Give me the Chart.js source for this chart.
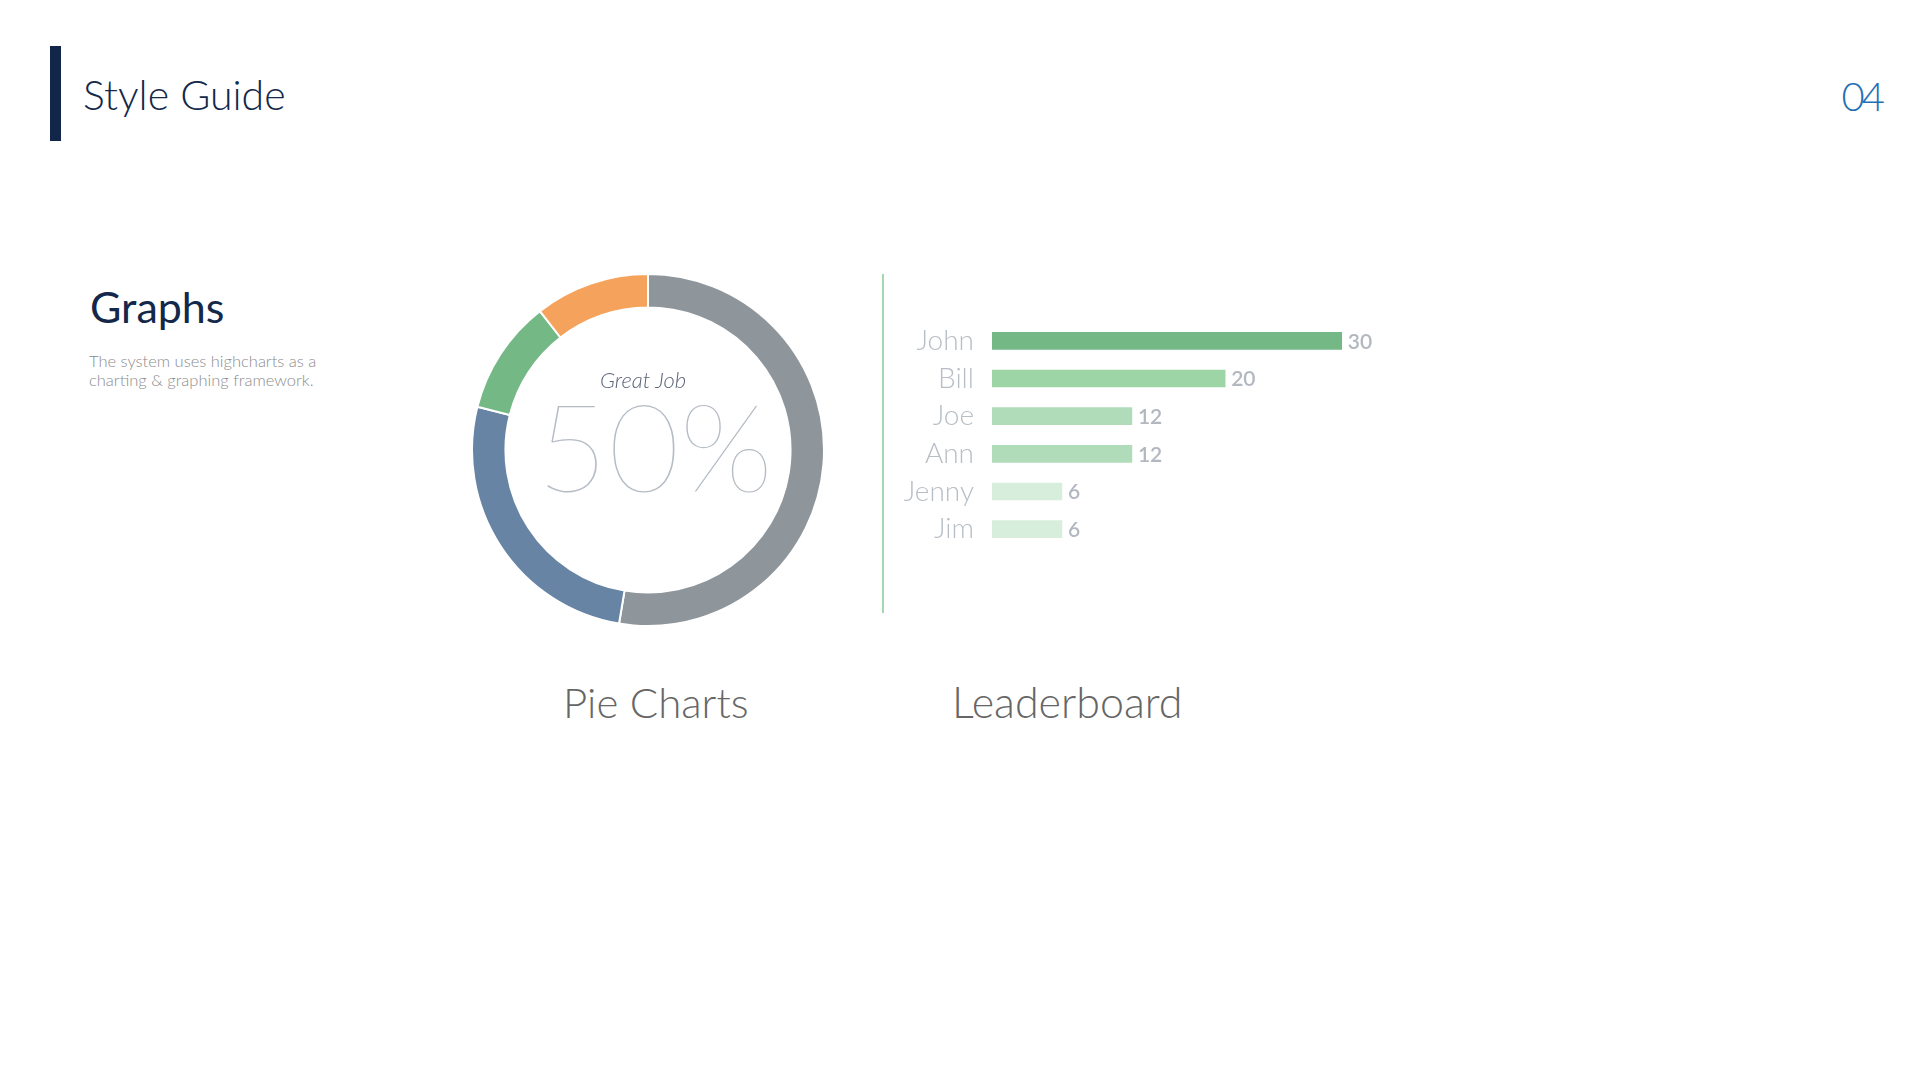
<!DOCTYPE html>
<html><head><meta charset="utf-8">
<script src="https://cdn.jsdelivr.net/npm/chart.js@4.4.0/dist/chart.umd.min.js"></script>
<style>
html,body{margin:0;padding:0;background:#fff;width:1920px;height:1080px;overflow:hidden;font-family:Lato,"Open Sans",sans-serif;}
.abs{position:absolute;white-space:nowrap;line-height:1;}
</style></head><body>
<div class="abs" style="left:50px;top:46px;width:11px;height:95px;background:#12264a;"></div>
<div class="abs" style="left:83px;top:74px;font-size:41px;font-weight:300;color:#13284a;">Style Guide</div>
<div class="abs" style="right:38px;top:76px;font-size:40px;letter-spacing:-3px;font-weight:300;color:#1f6fb5;">04</div>
<div class="abs" style="left:90px;top:285px;font-size:43px;font-weight:400;color:#13284a;">Graphs</div>
<div class="abs" style="left:89px;top:352px;font-size:16.5px;line-height:19px;font-weight:300;color:#8c8c8c;">The system uses highcharts as a<br>charting &amp; graphing framework.</div>

<div class="abs" style="left:471px;top:273px;width:354px;height:354px;"><canvas id="pie" width="354" height="354"></canvas></div>
<div class="abs" id="cap" style="left:543px;top:369px;width:200px;text-align:center;font-size:22px;font-style:italic;font-weight:300;color:#5b6579;"></div>
<div class="abs" id="val" style="left:455px;top:396px;width:400px;text-align:center;font-size:123px;line-height:0.8;font-weight:200;color:#b5bcc4;"></div>

<div class="abs" style="left:882px;top:274px;width:2px;height:339px;background:#a6d8b0;"></div>
<div class="abs" style="left:890px;top:300px;width:570px;height:260px;"><canvas id="bars" width="570" height="260"></canvas></div>

<div class="abs" style="left:563px;top:681px;font-size:42px;font-weight:300;color:#666;">Pie Charts</div>
<div class="abs" style="left:952px;top:680px;font-size:43px;font-weight:300;color:#666;">Leaderboard</div>

<script>
const pieLabels = ['Segment A','Segment B','Segment C','Segment D'];
const pieValues = [50, 25, 10, 10];
const pieColors = ['#8e959b','#6784a4','#74b886','#f5a35c'];
const centerCaption = 'Great Job';
const centerValue = '50%';

const leaderNames = ['John','Bill','Joe','Ann','Jenny','Jim'];
const leaderScores = [30, 20, 12, 12, 6, 6];
const leaderColors = ['#74b886','#9dd5a6','#b0dcb9','#b0dcb9','#d8eedc','#d8eedc'];

document.getElementById('cap').textContent = centerCaption;
document.getElementById('val').textContent = centerValue;

const valueLabelPlugin = {
  id: 'valueLabels',
  afterDatasetsDraw(chart) {
    const ctx = chart.ctx;
    const meta = chart.getDatasetMeta(0);
    const data = chart.data.datasets[0].data;
    ctx.save();
    ctx.font = '600 21px Lato';
    ctx.fillStyle = '#b3b8c0';
    ctx.textBaseline = 'middle';
    ctx.textAlign = 'left';
    meta.data.forEach((bar, i) => {
      ctx.fillText(String(data[i]), bar.x + 6, bar.y + 1);
    });
    ctx.restore();
  }
};

function draw() {
  new Chart(document.getElementById('pie'), {
    type: 'doughnut',
    data: { labels: pieLabels, datasets: [{ data: pieValues, backgroundColor: pieColors, borderColor: '#ffffff', borderWidth: 2, hoverOffset: 0 }] },
    options: {
      responsive: false, animation: false, devicePixelRatio: 1,
      cutout: '81%',
      layout: { padding: 0 },
      plugins: { legend: { display: false }, tooltip: { enabled: false } }
    }
  });

  new Chart(document.getElementById('bars'), {
    type: 'bar',
    data: { labels: leaderNames, datasets: [{ data: leaderScores, backgroundColor: leaderColors, borderWidth: 0, barThickness: 17 }] },
    options: {
      indexAxis: 'y',
      responsive: false, animation: false, devicePixelRatio: 1,
      layout: { padding: { top: 22, bottom: 12, right: 60, left: 0 } },
      scales: {
        x: { display: false, min: 0, max: 35 },
        y: {
          grid: { display: false, drawTicks: false },
          border: { display: false },
          ticks: { padding: 18, color: '#b8bec6', font: { family: 'Lato', size: 28, weight: '300' } },
          afterFit(scale) { scale.width = 102; scale.paddingTop = 0; scale.paddingBottom = 0; }
        }
      },
      plugins: { legend: { display: false }, tooltip: { enabled: false } }
    },
    plugins: [valueLabelPlugin]
  });
}
if (document.fonts && document.fonts.ready) { document.fonts.ready.then(draw); } else { draw(); }
</script>
</body></html>
